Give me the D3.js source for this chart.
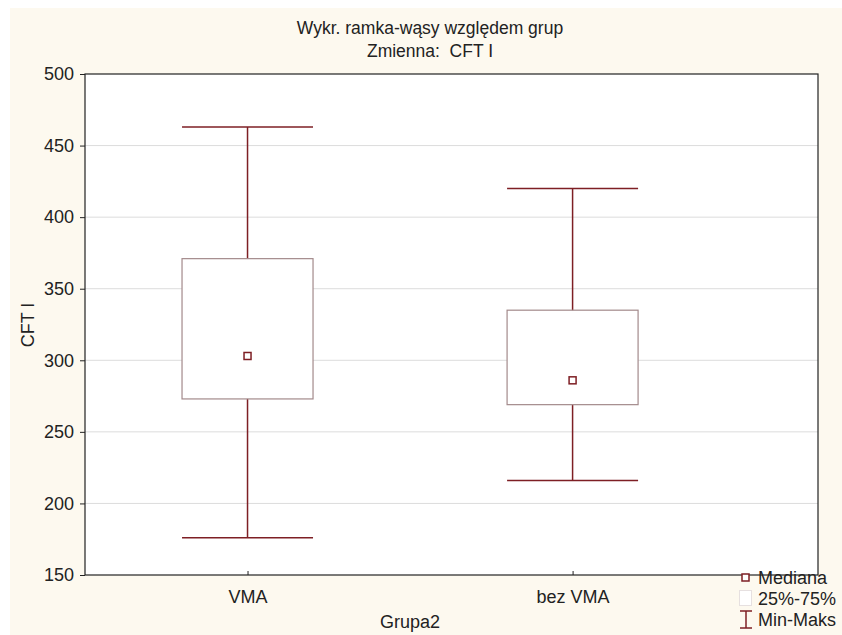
<!DOCTYPE html>
<html>
<head>
<meta charset="utf-8">
<script src="https://cdnjs.cloudflare.com/ajax/libs/d3/7.8.5/d3.min.js"></script>
<style>
    body { margin: 0; background: #fff; }
    text { font-family: "Liberation Sans", Arial, sans-serif; fill: #222; white-space: pre; }
</style>
</head>
<body>
<svg id="chart" width="842" height="635"></svg>
<script>
var groups = ["VMA", "bez VMA"];
var mins = [176, 216];
var q1s = [273, 269];
var medians = [303, 286];
var q3s = [371, 335];
var maxs = [463, 420];
var yTicks = [150, 200, 250, 300, 350, 400, 450, 500];

(function () {
    var svg = d3.select("#chart");
    var pLeft = 85, pRight = 818, pTop = 74, pBottom = 575;
    var fs = "18px";

    svg.append("rect")
        .attr("x", 10).attr("y", 8)
        .attr("width", 832).attr("height", 627)
        .attr("fill", "#fdf9ef");

    svg.append("rect")
        .attr("x", pLeft).attr("y", pTop)
        .attr("width", pRight - pLeft).attr("height", pBottom - pTop)
        .attr("fill", "#fff");

    var y = d3.scaleLinear().domain([150, 500]).range([pBottom, pTop]);
    var x = d3.scaleLinear().domain([0.5, 2.755]).range([pLeft, pRight]);

    // grid
    svg.append("g").selectAll("line")
        .data(yTicks.slice(1, -1))
        .enter().append("line")
        .attr("x1", pLeft).attr("x2", pRight)
        .attr("y1", function (d) { return y(d); })
        .attr("y2", function (d) { return y(d); })
        .attr("stroke", "#dcdcdc").attr("stroke-width", 1);

    // frame
    svg.append("rect")
        .attr("x", pLeft).attr("y", pTop)
        .attr("width", pRight - pLeft).attr("height", pBottom - pTop)
        .attr("fill", "none").attr("stroke", "#222").attr("stroke-width", 1.2);

    // y axis
    var ya = svg.append("g").attr("transform", "translate(" + pLeft + ",0)")
        .call(d3.axisLeft(y).tickValues(yTicks).tickSize(5).tickPadding(6));
    ya.select(".domain").remove();
    ya.selectAll("line").attr("stroke", "#222");
    ya.selectAll("text").style("font-size", fs).attr("fill", "#222")
        .style("font-family", "Liberation Sans, Arial, sans-serif");

    // x axis (ticks inside)
    var xa = svg.append("g").attr("transform", "translate(0," + pBottom + ")")
        .call(d3.axisBottom(x).tickValues([1, 2]).tickSize(0).tickPadding(15)
            .tickFormat(function (d) { return groups[d - 1]; }));
    xa.select(".domain").remove();
    xa.selectAll("text").style("font-size", fs).attr("fill", "#222")
        .style("font-family", "Liberation Sans, Arial, sans-serif");
    xa.selectAll(".tick").append("line")
        .attr("y1", 0).attr("y2", -4).attr("stroke", "#222");

    var whisk = "#7e1f24", boxStroke = "#a38a8b", halfW = 65.5;

    var g = svg.append("g").selectAll("g")
        .data(groups)
        .enter().append("g");

    // whiskers
    g.append("line")
        .attr("x1", function (d, i) { return x(i + 1); })
        .attr("x2", function (d, i) { return x(i + 1); })
        .attr("y1", function (d, i) { return y(maxs[i]); })
        .attr("y2", function (d, i) { return y(mins[i]); })
        .attr("stroke", whisk).attr("stroke-width", 1.5);
    [maxs, mins].forEach(function (arr) {
        g.append("line")
            .attr("x1", function (d, i) { return x(i + 1) - halfW; })
            .attr("x2", function (d, i) { return x(i + 1) + halfW; })
            .attr("y1", function (d, i) { return y(arr[i]); })
            .attr("y2", function (d, i) { return y(arr[i]); })
            .attr("stroke", whisk).attr("stroke-width", 1.5);
    });

    // boxes
    g.append("rect")
        .attr("x", function (d, i) { return x(i + 1) - halfW; })
        .attr("y", function (d, i) { return y(q3s[i]); })
        .attr("width", halfW * 2)
        .attr("height", function (d, i) { return y(q1s[i]) - y(q3s[i]); })
        .attr("fill", "#fff").attr("stroke", boxStroke).attr("stroke-width", 1.2);

    // medians
    g.append("rect")
        .attr("x", function (d, i) { return x(i + 1) - 3.5; })
        .attr("y", function (d, i) { return y(medians[i]) - 3.5; })
        .attr("width", 7).attr("height", 7)
        .attr("fill", "#fff").attr("stroke", whisk).attr("stroke-width", 1.5);

    // titles
    svg.append("text").attr("x", 430).attr("y", 34).attr("text-anchor", "middle")
        .style("font-size", "17.5px").text("Wykr. ramka-wąsy względem grup");
    svg.append("text").attr("x", 430).attr("y", 57).attr("text-anchor", "middle")
        .style("font-size", "17.5px").text("Zmienna:  CFT I");
    svg.append("text").attr("transform", "translate(34,325) rotate(-90)")
        .attr("text-anchor", "middle").style("font-size", fs).text("CFT I");
    svg.append("text").attr("x", 410).attr("y", 628).attr("text-anchor", "middle")
        .style("font-size", fs).text("Grupa2");

    // legend
    var lg = svg.append("g");
    lg.append("rect").attr("x", 742).attr("y", 574).attr("width", 7).attr("height", 7)
        .attr("fill", "#fff").attr("stroke", whisk).attr("stroke-width", 1.5);
    lg.append("text").attr("x", 758).attr("y", 584).style("font-size", fs).text("Mediana");
    lg.append("rect").attr("x", 739.5).attr("y", 590.5).attr("width", 12).attr("height", 15)
        .attr("fill", "#fff").attr("stroke", "#e6e0e0");
    lg.append("text").attr("x", 758).attr("y", 605).style("font-size", fs).text("25%-75%");
    lg.append("line").attr("x1", 746).attr("x2", 746).attr("y1", 611).attr("y2", 628)
        .attr("stroke", whisk).attr("stroke-width", 1.5);
    lg.append("line").attr("x1", 740).attr("x2", 752).attr("y1", 611).attr("y2", 611)
        .attr("stroke", whisk).attr("stroke-width", 1.5);
    lg.append("line").attr("x1", 740).attr("x2", 752).attr("y1", 628).attr("y2", 628)
        .attr("stroke", whisk).attr("stroke-width", 1.5);
    lg.append("text").attr("x", 758).attr("y", 626).style("font-size", fs).text("Min-Maks");
})();
</script>
</body>
</html>
